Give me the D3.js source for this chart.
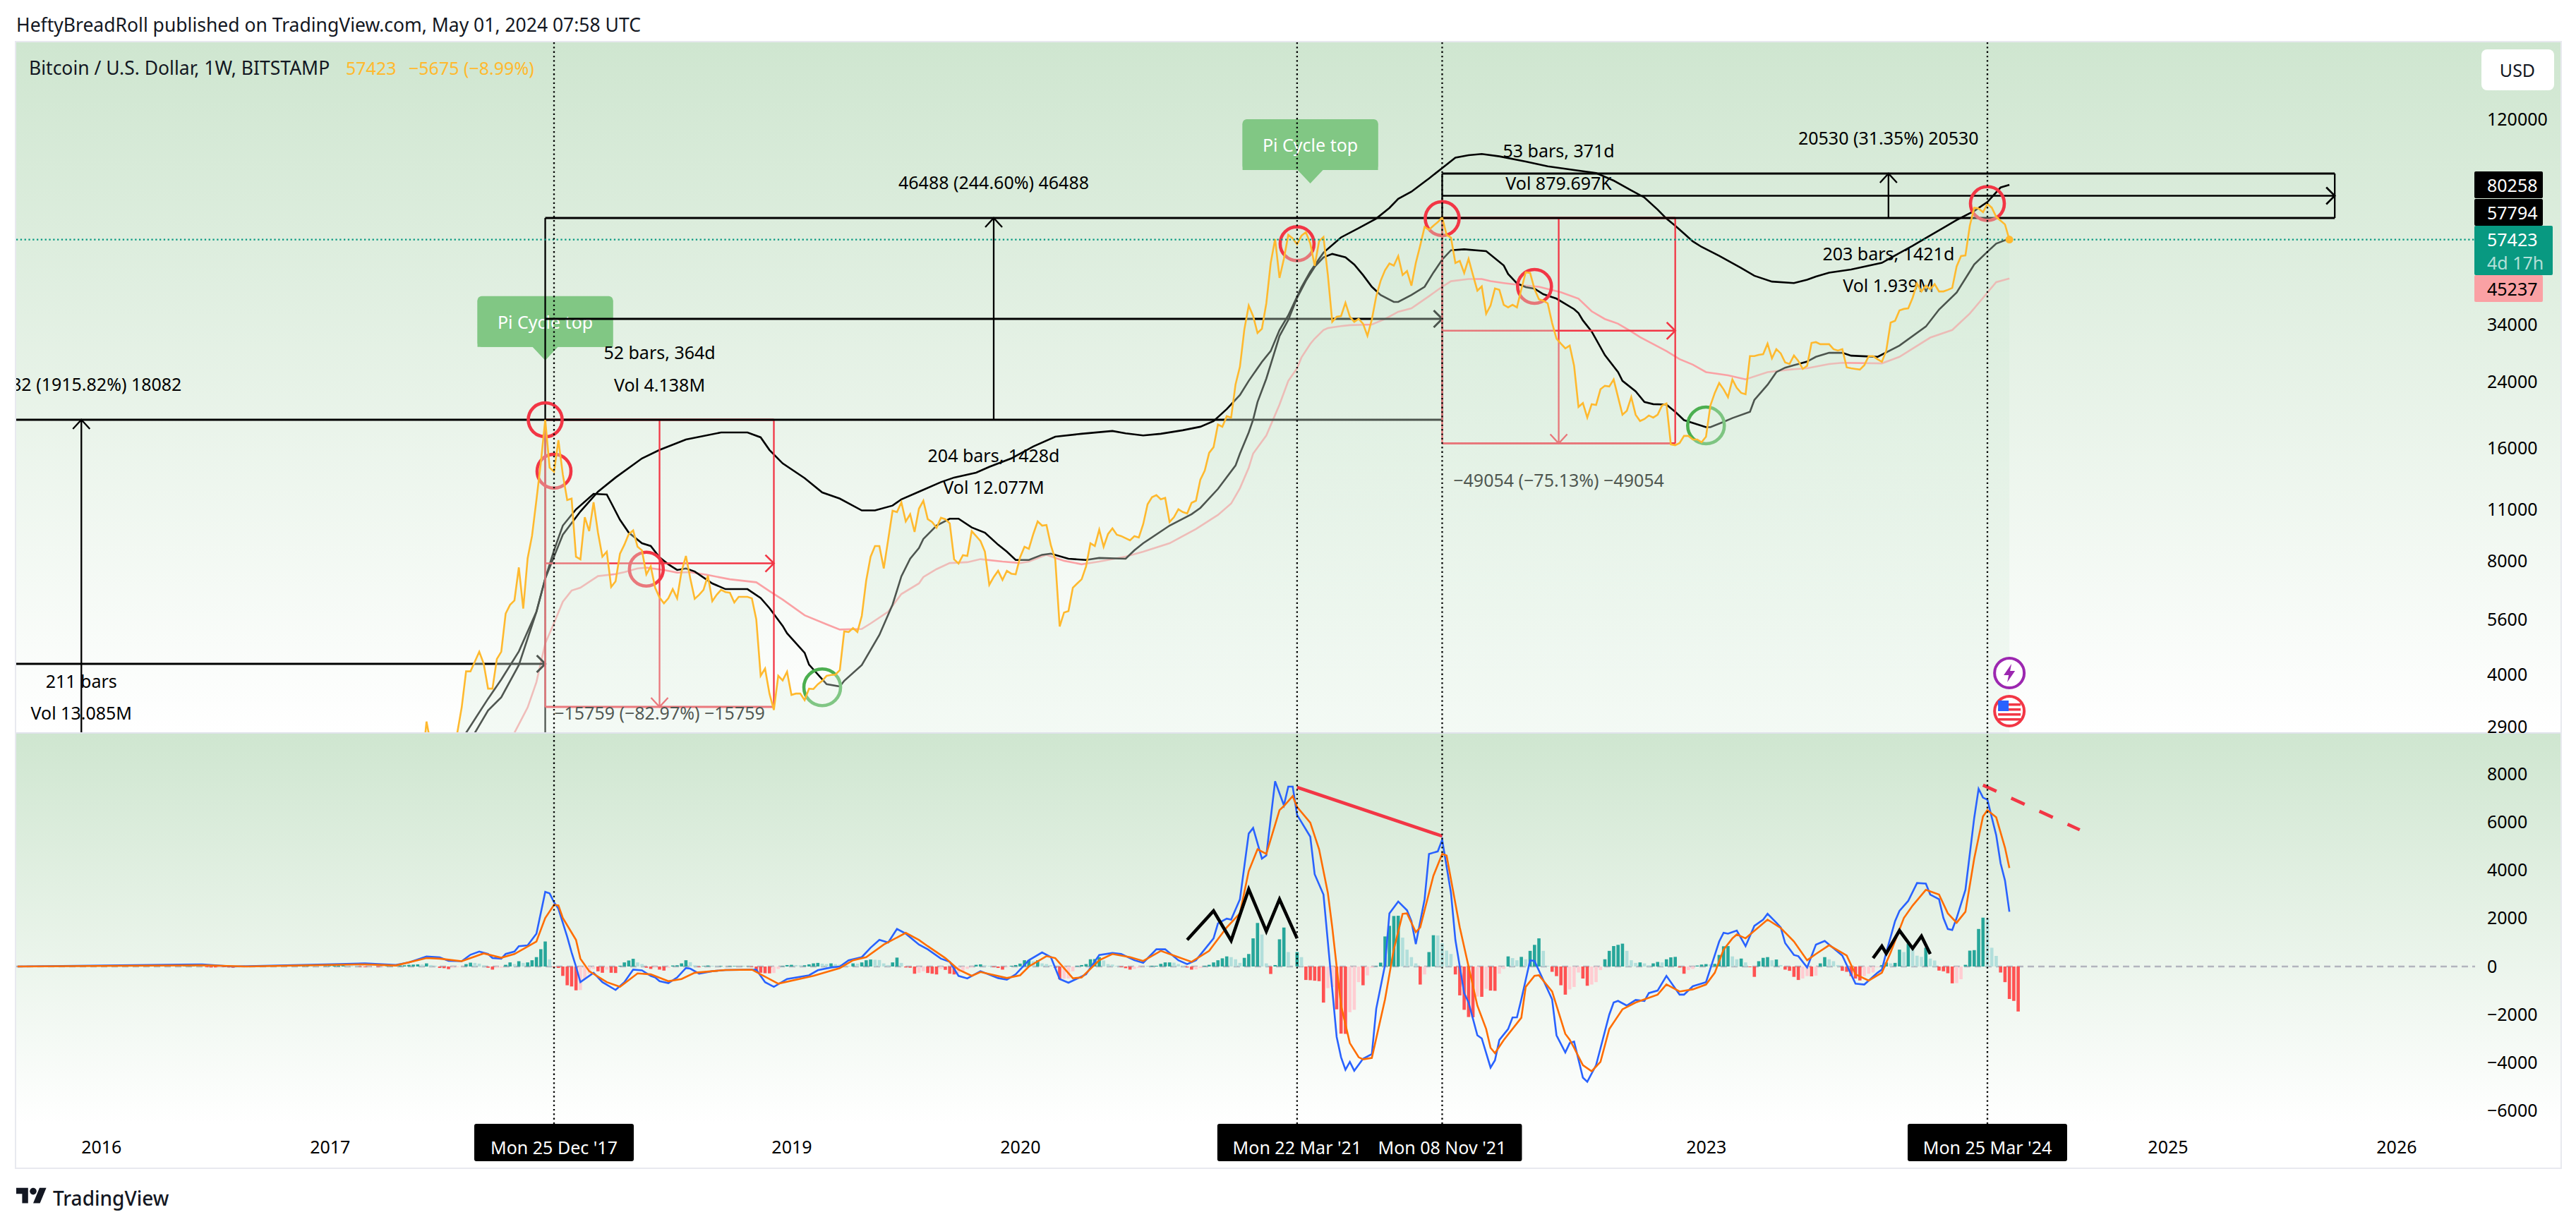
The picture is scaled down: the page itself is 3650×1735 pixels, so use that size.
<!DOCTYPE html>
<html>
<head>
<meta charset="utf-8">
<title>BTCUSD 1W</title>
<script src="https://d3js.org/d3.v7.min.js"></script>
<style>
    html, body { margin: 0; padding: 0; background: #fff; }
    svg { display: block; }
    text { font-family: "Noto Sans", sans-serif; }
</style>
</head>
<body>
<div id="chartContainer"></div>
<script>
// weeks are counted from Mon 25 Dec 2017 (week 0)
const firstPriceWeek = -33;
const priceValues = [
    1800, 2000, 2150, 2280, 3000, 2600, 2500, 2480, 2580, 2600, 2450, 2800,
    3270, 4080, 4080, 4330, 4600, 4280, 3670, 3670, 4400, 4600, 5810, 6130, 6300, 7710, 5990, 8150, 9360, 11650, 14640, 19040, 14200,
    13860, 16800, 13630, 11650, 11750, 8230, 8100, 10490, 9630, 11490,
    9540, 8230, 8490, 6840, 7080, 8380, 8860, 9460, 9670, 8750,
    8560, 7390, 7760, 6810, 6410, 6190, 6380, 6750, 6380, 7520,
    8270, 7200, 6360, 6520, 6720, 7330, 6270, 6520, 6720, 6630,
    6600, 6220, 6440, 6440, 6440, 6380, 5610, 3970, 4150, 3560,
    3220, 3970, 3860, 4070, 3530, 3560, 3560, 3420, 3670, 3660,
    3770, 3850, 3970, 3990, 4000, 4110, 5210, 5190, 5320, 5190,
    5730, 7110, 8230, 8790, 8790, 7660, 9140, 10910, 10820, 11490,
    10220, 10680, 9580, 11050, 11600, 10360, 10180, 9830, 10450, 10360,
    10100, 8100, 7890, 8310, 8270, 9630, 9340, 9060, 8490, 6930,
    7270, 7550, 7140, 7550, 7420, 7390, 8200, 8750, 8640, 9460,
    10220, 9960, 10000, 8830, 8100, 5370, 5850, 5900, 6810, 6990,
    7170, 7760, 8940, 8790, 9710, 8750, 9460, 9790, 9420, 9340,
    9220, 9100, 9340, 9260, 10050, 11350, 11850, 12000, 11700, 11800,
    10180, 10490, 11010, 10820, 10730, 11450, 11600, 13200, 13950, 15550,
    16100, 18500, 18250, 19470, 19300, 23650, 26350, 33100, 38350, 35950,
    32400, 33250, 38860, 49750, 57600, 45400, 51050, 59100, 57850, 55850,
    58800, 60100, 56100, 48900, 56850, 58300, 46200, 34700, 35800, 35950,
    39000, 35800, 34700, 35350, 34300, 31850, 35200, 40580, 44600, 47600,
    49600, 48950, 51900, 46200, 47350, 43300, 49750, 55350, 62050, 61000,
    62500, 63900, 65800, 59100, 58100, 49750, 50400, 46800, 51050, 46200,
    42000, 43100, 36450, 38350, 42550, 42200, 38500, 37900, 38500, 37900,
    42370, 47000, 46800, 42370, 39850, 39500, 38860, 34450, 31300, 30350,
    29500, 30000, 26500, 20600, 21100, 19300, 20950, 20850, 22950, 23450,
    23350, 24380, 21880, 19640, 20130, 21880, 19640, 18900, 19130, 19550,
    19300, 19640, 20780, 21040, 16380, 16300, 16520, 17250, 17250, 16880,
    16880, 16600, 17170, 20780, 22450, 23850, 22950, 21880, 24380, 23150,
    22450, 22270, 28120, 28120, 28350, 28470, 30350, 27750, 29350, 28600,
    27050, 26800, 28240, 27300, 26000, 26500, 30500, 30640, 30250, 30250,
    30250, 29350, 29100, 29350, 26250, 26100, 26000, 25900, 26600, 28120,
    28120, 27600, 27150, 29100, 34550, 34900, 37220, 37550, 37700, 40220,
    43900, 41800, 43300, 42370, 43700, 41800, 41800, 42200, 42700, 48700,
    51900, 52100, 62500, 69800, 69500, 67900, 71500, 69800, 66000, 64500,
    63000, 57423
];

const upperMaWeeks = [-22, -18, -15, -12, -8, -4, -2, 2, 6, 10, 14, 20, 24, 30, 38, 44, 47, 49, 52, 57, 61, 65, 70, 73, 77, 79, 83, 88, 91, 96, 99, 104, 109, 114, 120, 127, 130, 134, 138, 143, 147, 150, 153, 156, 158, 161, 163, 165, 167, 170, 172, 175, 179, 183, 187, 190, 192, 195, 199, 202, 205, 208, 211, 215, 221, 226, 232, 237, 241, 245, 248, 251, 253, 255, 257, 259, 261, 265, 270, 273, 277, 282, 285, 287, 290, 295, 302, 305, 309, 312, 316, 319, 323, 326, 329, 331];
const upperMaValues = [2300, 2800, 3210, 3480, 4240, 5870, 7200, 9420, 10860, 12260, 13370, 15030, 15830, 16870, 17620, 17620, 17100, 15830, 14580, 13320, 12200, 11750, 10930, 10930, 11260, 11700, 12260, 13000, 13370, 13780, 14270, 15030, 16170, 17170, 17480, 17780, 17530, 17300, 17480, 17860, 18250, 18890, 20330, 22170, 24170, 27150, 29000, 33000, 36100, 42900, 47200, 53000, 58200, 61600, 65300, 69700, 73700, 77000, 83500, 89000, 94800, 96300, 97000, 95600, 92600, 89900, 87900, 86300, 82400, 77600, 74300, 69000, 65300, 62500, 59600, 56800, 54900, 52000, 48250, 46000, 44400, 44000, 44900, 45800, 46900, 47800, 49800, 52100, 55300, 58000, 61700, 64700, 68400, 72300, 79000, 80258];

const middleMaWeeks = [-24, -20, -15, -12, -8, -4, -2, 0, 2, 5, 9, 12, 13, 15, 17, 20, 22, 24, 26, 28, 30, 32, 36, 39, 44, 47, 49, 52, 53, 57, 58, 62, 65, 66, 70, 74, 77, 79, 81, 83, 84, 87, 90, 92, 95, 98, 101, 103, 105, 108, 111, 113, 117, 121, 124, 130, 132, 134, 140, 145, 147, 151, 155, 156, 158, 159, 160, 162, 165, 167, 169, 171, 173, 175, 177, 180, 182, 184, 186, 188, 191, 192, 195, 198, 200, 202, 204, 207, 212, 216, 217, 219, 221, 223, 225, 228, 232, 233, 234, 236, 239, 242, 243, 246, 248, 250, 253, 255, 257, 262, 263, 266, 268, 272, 273, 276, 278, 280, 283, 285, 287, 290, 293, 295, 301, 306, 312, 315, 319, 323, 326, 328, 331];
const middleMaValues = [2300, 2800, 3450, 3880, 4610, 5880, 7200, 8560, 9960, 11000, 12100, 12050, 11450, 10320, 9540, 8940, 8790, 8200, 7860, 7590, 7660, 7520, 6990, 6750, 6750, 6390, 6010, 5390, 5150, 4570, 4250, 3770, 3720, 3850, 4240, 5100, 6140, 7300, 8130, 8680, 9180, 9960, 10390, 10390, 9850, 9540, 8860, 8490, 8070, 8070, 8330, 8390, 8130, 8070, 8170, 8130, 8560, 8940, 9960, 10680, 11100, 12470, 14390, 15480, 17620, 19060, 21230, 24500, 31800, 35100, 40200, 44600, 48600, 51500, 52600, 51500, 49300, 46200, 43000, 40900, 39200, 39200, 40900, 43000, 46900, 50800, 53800, 54100, 53500, 49000, 46500, 43900, 42900, 42500, 41100, 40000, 37500, 36600, 35000, 32700, 28300, 25500, 24170, 22670, 21230, 20960, 20900, 20000, 19000, 18200, 18200, 18800, 19240, 20000, 21500, 23600, 25500, 26200, 26800, 27200, 28000, 28700, 28700, 28200, 28000, 30000, 33700, 37400, 41500, 49300, 53300, 56000, 57794];

const pinkMaWeeks = [-12, -9, -6, -4, -2, 0, 2, 4, 6, 10, 14, 16, 19, 21, 25, 28, 31, 35, 40, 46, 49, 52, 57, 62, 65, 70, 72, 76, 79, 83, 84, 87, 90, 94, 97, 102, 106, 108, 112, 116, 120, 124, 130, 134, 140, 146, 151, 154, 156, 158, 159, 162, 165, 167, 169, 170, 172, 173, 175, 176, 179, 181, 186, 189, 192, 195, 199, 202, 204, 208, 211, 213, 216, 221, 224, 229, 233, 236, 239, 242, 245, 247, 253, 256, 259, 262, 267, 271, 276, 281, 285, 290, 293, 302, 306, 313, 318, 322, 326, 328, 331];
const pinkMaValues = [2400, 2800, 3270, 3820, 4840, 5480, 6250, 6690, 6810, 7310, 7400, 7490, 7660, 7700, 7590, 7470, 7490, 7360, 7170, 7040, 6670, 6330, 5750, 5440, 5270, 5290, 5470, 5880, 6550, 6990, 7270, 7630, 7920, 7960, 8110, 7990, 7920, 7990, 8330, 8030, 7860, 7990, 8240, 8490, 8940, 9750, 10630, 11400, 12520, 14200, 15480, 17300, 20900, 24170, 26100, 27900, 30300, 31300, 33000, 33400, 33800, 34000, 34140, 35300, 36900, 37700, 40600, 43000, 44500, 45100, 45100, 44500, 44000, 43300, 43000, 41600, 40000, 37000, 35300, 34300, 32700, 31600, 29000, 27600, 26700, 25500, 25000, 24400, 25500, 25900, 26100, 26800, 27000, 26900, 28000, 31500, 33000, 36500, 41500, 44240, 45237];

const macdWeeks = [-122, -80, -73, -52, -43, -36, -33, -29, -26, -24, -21, -19, -17, -15, -14, -12, -11, -9, -8, -6, -4, -2, -1, 0, 1, 3, 4, 5, 6, 9, 11, 14, 16, 18, 20, 22, 23, 24, 26, 28, 30, 31, 33, 36, 39, 46, 48, 50, 53, 58, 60, 63, 65, 67, 70, 72, 74, 76, 78, 80, 83, 85, 88, 90, 92, 94, 97, 101, 103, 105, 108, 111, 113, 115, 117, 121, 124, 127, 129, 132, 134, 137, 139, 142, 144, 146, 150, 151, 153, 154, 156, 158, 159, 161, 162, 164, 166, 167, 168, 169, 172, 173, 175, 178, 179, 180, 181, 182, 184, 186, 187, 189, 190, 192, 194, 195, 196, 198, 199, 201, 202, 204, 205, 207, 208, 210, 211, 213, 214, 215, 217, 218, 219, 220, 222, 223, 227, 228, 230, 231, 232, 234, 235, 237, 240, 241, 242, 244, 246, 248, 249, 251, 253, 256, 257, 259, 262, 265, 266, 267, 269, 271, 273, 275, 276, 278, 279, 280, 282, 283, 285, 287, 289, 293, 295, 296, 298, 301, 302, 303, 305, 306, 308, 310, 312, 313, 315, 316, 317, 318, 319, 321, 323, 324, 325, 326, 328, 329, 330, 331];
const macdValues = [0, 90, 0, 90, 130, 65, 170, 415, 380, 235, 220, 490, 620, 520, 350, 325, 520, 620, 845, 880, 1365, 3100, 3040, 2670, 2405, 1235, 585, 0, -650, -260, -650, -975, -650, -130, -160, -390, -455, -610, -690, -455, -65, -90, -300, -195, -145, -130, -650, -845, -520, -365, -155, -40, 0, 260, 390, 780, 1105, 1000, 1560, 1365, 910, 715, 325, 195, -390, -495, -195, -480, -545, -325, 260, 585, 390, -520, -675, -325, 480, 560, 520, 260, 155, 715, 715, 260, 100, 260, 1170, 1790, 1990, 1950, 2795, 5525, 5760, 4485, 4615, 7700, 6700, 7480, 7480, 6300, 5395, 3835, 2990, -2925, -3770, -4290, -3965, -4330, -3835, -3640, -1755, 65, 2210, 2700, 2340, 1885, 930, 2795, 4680, 4785, 5265, 3055, 1105, -1105, -1495, -2860, -2990, -4200, -3900, -3055, -2600, -2120, -2110, -1365, 260, 230, -1365, -2860, -3575, -3185, -3120, -4620, -4790, -4100, -2000, -1495, -1430, -1625, -1390, -1430, -1105, -1000, -390, -1170, -1170, -820, -650, 1040, 1400, 1365, 1495, 845, 1690, 1950, 2190, 1820, 1625, 975, 480, 430, -40, 910, 1065, 455, -325, -715, -750, -260, -130, 585, 1885, 2310, 2730, 3470, 3445, 2990, 2795, 2015, 1560, 1520, 2015, 3185, 6175, 7385, 7020, 6930, 5460, 4290, 3575, 2275];

const signalWeeks = [-122, -80, -70, -43, -36, -29, -26, -21, -16, -12, -9, -4, -2, 0, 1, 2, 5, 6, 8, 12, 15, 19, 22, 26, 29, 32, 39, 45, 51, 59, 65, 68, 71, 75, 80, 83, 85, 89, 92, 95, 97, 103, 106, 108, 112, 114, 118, 120, 124, 127, 131, 134, 138, 142, 145, 149, 153, 156, 158, 160, 162, 165, 166, 168, 169, 172, 174, 176, 177, 179, 181, 183, 184, 186, 189, 191, 193, 194, 196, 197, 200, 202, 203, 206, 208, 210, 212, 213, 214, 216, 220, 221, 223, 224, 227, 230, 231, 232, 234, 236, 238, 240, 243, 246, 251, 253, 256, 259, 262, 264, 266, 268, 269, 271, 276, 279, 282, 285, 287, 290, 294, 296, 299, 302, 304, 307, 309, 312, 315, 317, 319, 321, 323, 325, 326, 328, 330, 331];
const signalValues = [0, 50, 0, 90, 40, 350, 325, 220, 545, 365, 520, 1040, 2015, 2565, 2540, 2015, 1105, 325, -195, -650, -845, -285, -325, -610, -520, -260, -145, -130, -715, -390, -65, 260, 390, 910, 1400, 1105, 845, 350, -130, -390, -230, -480, -365, 0, 430, 350, -490, -455, 260, 520, 390, 230, 650, 390, 195, 650, 1625, 2210, 3965, 4875, 4680, 6500, 6670, 7085, 6630, 5980, 4875, 3055, 1625, -1625, -3185, -3770, -3860, -3800, -1365, 715, 2190, 2210, 1430, 1625, 3770, 4680, 4615, 1625, 0, -1625, -2600, -3380, -3600, -3055, -2130, -845, -390, -365, -1040, -2800, -3040, -3380, -4100, -4355, -3965, -2600, -1780, -1495, -1170, -745, -1040, -950, -750, -260, 700, 1170, 1330, 1170, 1950, 1600, 1040, 260, 520, 885, 455, -325, -585, -260, 585, 2015, 2535, 3185, 2990, 2210, 1820, 2275, 4485, 6240, 6500, 6200, 4940, 4095];

const firstHistWeek = -84;
const histValues = [
    30, 40, 40, 30, 20, -30, -40, -40, -30, -30, -40, -50, -30, -20, -20, -10, 10, 10, 10, 20,
    20, 20, 15, 10, 10, 20, 30, 40, 40, 30, 20, 10, 15, 20, 30, 40, 50, 40, 30, 20, -20, -30, -20, -10,
    -30, -20, 20, 30, 40, 45, 50, 70, 80, 90, 80, 130, 60, 30, -60, -70, -110, -50, -30, -10,
    100, 160, 150, 120, 50, -50, -130, -60, -50, 70, 170, 100, 220, 150, 170, 260, 390, 720, 1040, 300,
    -30, -60, -390, -780, -830, -990, -980, -520, -300, -100, -200, -260, -130, -260, -270, 30, 170, 250, 320, 170,
    100, -50, -100, -60, -130, -170, -60, 40, 50, 130, 260, 180, 50, -30, 20, 40, 30, 20, 20, 10,
    20, 20, 10, 10, 10, -20, -170, -260, -280, -285, -270, -100, 20, 60, 70, 60, 50, 50, 90, 130,
    150, 120, 100, 130, 100, 80, 70, 30, 130, 120, 170, 260, 290, 280, 270, 130, 60, 170, 370, 150,
    -40, -50, -300, -260, -200, -270, -300, -330, -100, -140, -300, -330, -280, -200, -100, -40, 70, 90, 50, 30,
    -30, -60, -130, -30, 30, 60, 120, 260, 270, 220, 260, 130, 100, 50, -60, -520, -510, -500, -200, 30,
    60, 100, 300, 310, 390, 250, 100, 80, 30, -30, -70, -130, -100, -60, -10, 10, 30, 30, 110, 170,
    170, 160, 100, 30, -40, -130, -120, -60, 30, 70, 170, 260, 340, 420, 390, 300, 150, 360, 520, 1170,
    1810, 1330, 130, -310, 60, 1130, 1620, 600, 10, 600, 390, -560, -570, -590, -610, -1500, -900, -850, -1780, -2790,
    -2800, -1900, -1800, -650, -780, -370, -50, 20, 160, 1250, 1690, 2100, 2110, 1200, 700, 390, 130, -750, -330, 600,
    1300, 1290, 970, 660, 520, -330, -1200, -1800, -2100, -2110, -1250, -1260, -930, -1000, -1010, -300, -100, 420, 350, 260,
    400, 300, 650, 900, 1170, 650, 30, -220, -400, -780, -1170, -950, -850, -250, -500, -800, -750, -650, -150, 300,
    650, 850, 900, 950, 650, 260, 150, 170, 130, 50, 130, 190, 170, 300, 380, 400, -40, -300, -150, -100,
    40, 80, 100, 90, 110, 480, 840, 850, 420, 300, 330, 170, -30, -430, 220, 360, 390, 260, 290, 60,
    -130, -180, -430, -560, -500, -400, -410, -380, 130, 390, 300, 220, 60, -180, -220, -400, -500, -580, -400, -300,
    -250, -30, 60, 170, 130, 150, 700, 600, 950, 720, 450, 400, 780, 330, 250, -170, -200, -280, -700, -690,
    -530, 70, 660, 680, 1560, 2030, 2010, 780, 440, -250, -650, -1350, -1430, -1870
];

// measure tools: start week, end week, start price, end price
const rangeStartWeeks = [-213, -2, -2, 202, 202];
const rangeEndWeeks = [-2, 50, 202, 255, 405];
const rangeFromPrices = [958, 19040, 19040, 65528, 65528];
const rangeToPrices = [19040, 3281, 65528, 16474, 86058];
const rangePriceTexts = ["18082 (1915.82%) 18082", "\u221215759 (\u221282.97%) \u221215759", "46488 (244.60%) 46488", "\u221249054 (\u221275.13%) \u221249054", "20530 (31.35%) 20530"];
const rangeBarTexts = ["211 bars", "52 bars, 364d", "204 bars, 1428d", "53 bars, 371d", "203 bars, 1421d"];
const rangeVolTexts = ["Vol 13.085M", "Vol 4.138M", "Vol 12.077M", "Vol 879.697K", "Vol 1.939M"];

const circleWeeks = [-2, 0, 21, 61, 169, 202, 223, 262, 326];
const circlePrices = [19040, 13900, 7630, 3700, 56000, 65300, 43100, 18400, 71600];
const circleGreen = [false, false, false, true, false, false, false, true, false];

const calloutWeeks = [-2, 172];
const calloutPrices = [27400, 81000];

const crosshairWeeks = [0, 169, 202, 326];
const crosshairLabels = ["Mon 25 Dec '17", "Mon 22 Mar '21", "Mon 08 Nov '21", "Mon 25 Mar '24"];

const priceTicks = [120000, 34000, 24000, 16000, 11000, 8000, 5600, 4000, 2900];
const macdTicks = [8000, 6000, 4000, 2000, 0, -2000, -4000, -6000];
const yearTickDates = ["2016-01-04", "2017-01-02", "2019-01-07", "2020-01-06", "2023-01-02", "2025-01-06", "2026-01-05"];
const yearTickLabels = ["2016", "2017", "2019", "2020", "2023", "2025", "2026"];

const zigzagOneWeeks = [144, 150, 154, 158, 162, 165, 169];
const zigzagOneValues = [1105, 2314, 1079, 3211, 1469, 2795, 1170];
const zigzagTwoWeeks = [300, 302, 303, 306, 309, 311, 313];
const zigzagTwoValues = [351, 845, 546, 1495, 754, 1261, 520];
const trendOneWeeks = [169, 202];
const trendOneValues = [7449, 5421];
const trendTwoWeeks = [325, 347];
const trendTwoValues = [7540, 5681];

const axisLabelsPrice = [80258, 57794, 57423, 45237];


function drawChart() {

    const width = 3650, height = 1735;
    const paneLeft = 23, paneRight = 3628, plotRight = 3507;
    const mainTop = 60, mainBottom = 1038, subTop = 1040, subBottom = 1593;
    const black = "#000", red = "#f23645", gold = "#ffb92e";
    const fontSize = 25, headerSize = 26.5;

    const svg = d3.select("#chartContainer")
        .append("svg")
        .attr("width", width)
        .attr("height", height);

    const base = new Date(Date.UTC(2017, 11, 25));
    const weekDate = w => d3.utcDay.offset(base, 7 * w);

    const x = d3.scaleUtc()
        .domain([weekDate(0), weekDate(326)])
        .range([785, 2816]);

    const y = d3.scaleLog()
        .domain([2900, 120000])
        .range([1030.6, 169]);

    const yMacd = d3.scaleLinear()
        .domain([-6000, 8000])
        .range([1574.6, 1097.2]);

    const defs = svg.append("defs");

    const paneGrad = defs.append("linearGradient")
        .attr("id", "paneGrad")
        .attr("x1", 0).attr("x2", 0).attr("y1", 0).attr("y2", 1);
    paneGrad.append("stop").attr("offset", 0).attr("stop-color", "#cfe6d0");
    paneGrad.append("stop").attr("offset", 1).attr("stop-color", "#ffffff");

    const areaGrad = defs.append("linearGradient")
        .attr("id", "areaGrad")
        .attr("gradientUnits", "userSpaceOnUse")
        .attr("x1", 0).attr("x2", 0).attr("y1", 290).attr("y2", mainBottom);
    areaGrad.append("stop").attr("offset", 0).attr("stop-color", "#cde8d2").attr("stop-opacity", 0.36);
    areaGrad.append("stop").attr("offset", 1).attr("stop-color", "#dff0e2").attr("stop-opacity", 0.36);

    defs.append("clipPath").attr("id", "mainClip")
        .append("rect")
        .attr("x", paneLeft).attr("y", mainTop)
        .attr("width", plotRight - paneLeft).attr("height", mainBottom - mainTop);

    defs.append("clipPath").attr("id", "subClip")
        .append("rect")
        .attr("x", paneLeft).attr("y", subTop)
        .attr("width", plotRight - paneLeft).attr("height", subBottom - subTop);

    // backgrounds
    svg.append("rect")
        .attr("x", paneLeft).attr("y", mainTop)
        .attr("width", paneRight - paneLeft).attr("height", mainBottom - mainTop)
        .attr("fill", "url(#paneGrad)");

    svg.append("rect")
        .attr("x", paneLeft).attr("y", subTop)
        .attr("width", paneRight - paneLeft).attr("height", subBottom - subTop)
        .attr("fill", "url(#paneGrad)");

    // frame
    svg.append("rect")
        .attr("x", paneLeft - 1).attr("y", mainTop - 1)
        .attr("width", paneRight - paneLeft + 2).attr("height", 1656 - mainTop + 1)
        .attr("fill", "none")
        .attr("stroke", "#e8e9ef")
        .attr("stroke-width", 2);

    svg.append("line")
        .attr("x1", paneLeft).attr("x2", paneRight)
        .attr("y1", 1039).attr("y2", 1039)
        .attr("stroke", "#e0e3eb")
        .attr("stroke-width", 2);

    const main = svg.append("g").attr("clip-path", "url(#mainClip)");

    // callouts sit under the tools
    const calloutG = main.selectAll(".callout")
        .data(calloutWeeks.map((w, i) => ({ w: w, p: calloutPrices[i] })))
        .enter()
        .append("g")
        .attr("class", "callout")
        .attr("transform", d => `translate(${x(weekDate(d.w))},${y(d.p)})`);

    calloutG.append("path")
        .attr("fill", "#81c784")
        .attr("d", "M-96,-85 h192 v66 h-78 l-18,19 l-18,-19 h-78 z");

    calloutG.append("rect")
        .attr("x", -96).attr("y", -91)
        .attr("width", 192).attr("height", 72)
        .attr("rx", 6)
        .attr("fill", "#81c784");

    calloutG.append("text")
        .attr("y", -55)
        .attr("text-anchor", "middle")
        .attr("dominant-baseline", "central")
        .attr("fill", "#fff")
        .style("font-size", fontSize + "px")
        .text("Pi Cycle top");

    // moving averages
    const maLine = d3.line()
        .x(d => x(weekDate(d[0])))
        .y(d => y(d[1]));

    main.append("path")
        .attr("d", maLine(d3.zip(pinkMaWeeks, pinkMaValues)))
        .attr("fill", "none")
        .attr("stroke", "#faa1a4")
        .attr("stroke-width", 2.6);

    main.append("path")
        .attr("d", maLine(d3.zip(middleMaWeeks, middleMaValues)))
        .attr("fill", "none")
        .attr("stroke", black)
        .attr("stroke-width", 2.6);

    main.append("path")
        .attr("d", maLine(d3.zip(upperMaWeeks, upperMaValues)))
        .attr("fill", "none")
        .attr("stroke", black)
        .attr("stroke-width", 2.6);

    // date and price range tools
    rangeStartWeeks.forEach((startWeek, i) => {
        const x0 = x(weekDate(startWeek));
        const x1 = x(weekDate(rangeEndWeeks[i]));
        const yFrom = y(rangeFromPrices[i]);
        const yTo = y(rangeToPrices[i]);
        const up = yTo < yFrom;
        const color = up ? black : red;
        const top = Math.min(yFrom, yTo), bottom = Math.max(yFrom, yTo);
        const midX = (x0 + x1) / 2, midY = (top + bottom) / 2;

        const g = main.append("g")
            .attr("stroke", color)
            .attr("fill", "none");

        g.append("path")
            .attr("d", `M${x0},${top}H${x1}M${x0},${bottom}H${x1}`)
            .attr("stroke-width", 3);

        g.append("path")
            .attr("d", `M${x0},${top}V${bottom}M${x1},${top}V${bottom}`)
            .attr("stroke-width", 2.3);

        g.append("path")
            .attr("d", `M${x0},${midY}H${x1}M${x1 - 12},${midY - 12}L${x1},${midY}L${x1 - 12},${midY + 12}`)
            .attr("stroke-width", i === 4 || i === 1 || i === 3 ? 2.6 : 3);

        const tipY = up ? top : bottom;
        const dir = up ? 1 : -1;
        g.append("path")
            .attr("d", `M${midX},${up ? bottom : top}V${tipY}M${midX - 12},${tipY + dir * 13}L${midX},${tipY}L${midX + 12},${tipY + dir * 13}`)
            .attr("stroke-width", 2.3);

        // labels: price on the arrow side, bars and volume on the other side
        const priceY = up ? top - 51 : Math.min(bottom + 51, 1010);
        const volY = up ? Math.min(bottom + 95, 1010) : top - 50;
        const barY = up ? volY - 45 : top - 96;

        [[rangePriceTexts[i], priceY], [rangeBarTexts[i], barY], [rangeVolTexts[i], volY]].forEach(t => {
            main.append("text")
                .attr("x", midX)
                .attr("y", t[1])
                .attr("text-anchor", "middle")
                .attr("dominant-baseline", "central")
                .attr("fill", black)
                .style("font-size", fontSize + "px")
                .text(t[0]);
        });
    });

    // circles drawn on the chart
    main.selectAll(".mark")
        .data(circleWeeks.map((w, i) => ({ w: w, p: circlePrices[i], green: circleGreen[i] })))
        .enter()
        .append("circle")
        .attr("class", "mark")
        .attr("cx", d => x(weekDate(d.w)))
        .attr("cy", d => y(d.p))
        .attr("r", d => d.green ? 26 : 24)
        .attr("fill", "none")
        .attr("stroke", d => d.green ? "#4caf50" : red)
        .attr("stroke-width", 4.6);

    // price area goes over the tools, so they fade below the line
    const priceData = priceValues.map((v, i) => ({ week: firstPriceWeek + i, value: v }));

    const priceArea = d3.area()
        .x(d => x(weekDate(d.week)))
        .y0(mainBottom)
        .y1(d => y(d.value));

    main.append("path")
        .attr("d", priceArea(priceData))
        .attr("fill", "url(#areaGrad)");

    const priceLine = d3.line()
        .x(d => x(weekDate(d.week)))
        .y(d => y(d.value));

    main.append("path")
        .attr("d", priceLine(priceData))
        .attr("fill", "none")
        .attr("stroke", gold)
        .attr("stroke-width", 2.6);

    const lastPrice = priceData[priceData.length - 1];

    // last price line
    main.append("line")
        .attr("x1", paneLeft).attr("x2", plotRight)
        .attr("y1", y(lastPrice.value)).attr("y2", y(lastPrice.value))
        .attr("stroke", "#089981")
        .attr("stroke-width", 2.3)
        .attr("stroke-dasharray", "2.3 3.5");

    main.append("circle")
        .attr("cx", x(weekDate(lastPrice.week)))
        .attr("cy", y(lastPrice.value))
        .attr("r", 5.5)
        .attr("fill", gold);

    // event icons on the last bar
    const iconX = x(weekDate(lastPrice.week));
    const boltIcon = main.append("g").attr("transform", `translate(${iconX},954)`);
    boltIcon.append("circle").attr("r", 21).attr("fill", "#fff").attr("stroke", "#9c27b0").attr("stroke-width", 4);
    boltIcon.append("path").attr("d", "M3,-13 L-8,3 H-1 L-3,13 L8,-3 H1 Z").attr("fill", "#9c27b0");

    const flagIcon = main.append("g").attr("transform", `translate(${iconX},1008)`);
    flagIcon.append("circle").attr("r", 21).attr("fill", "#fff").attr("stroke", red).attr("stroke-width", 4);
    [-11, -4, 3, 10].forEach(d => {
        flagIcon.append("rect")
            .attr("x", -16).attr("y", d)
            .attr("width", 32).attr("height", 3.5)
            .attr("fill", red);
    });
    flagIcon.append("rect").attr("x", -16).attr("y", -15).attr("width", 15).attr("height", 15).attr("fill", "#2962ff");

    // macd pane
    const sub = svg.append("g").attr("clip-path", "url(#subClip)");

    sub.append("line")
        .attr("x1", paneLeft).attr("x2", plotRight)
        .attr("y1", yMacd(0)).attr("y2", yMacd(0))
        .attr("stroke", "#b2b5be")
        .attr("stroke-width", 2.3)
        .attr("stroke-dasharray", "9 6");

    const histColor = (v, prev) => {
        if (v >= 0) return v >= prev ? "#26a69a" : "#b2dfdb";
        return v <= prev ? "#ff5252" : "#ffcdd2";
    };

    sub.selectAll(".bar")
        .data(histValues)
        .enter()
        .append("rect")
        .attr("class", "bar")
        .attr("x", (d, i) => x(weekDate(firstHistWeek + i)) - 2.3)
        .attr("y", d => Math.min(yMacd(d), yMacd(0)))
        .attr("width", 4.6)
        .attr("height", d => Math.abs(yMacd(d) - yMacd(0)))
        .attr("fill", (d, i) => histColor(d, i ? histValues[i - 1] : 0));

    const macdLine = d3.line()
        .x(d => x(weekDate(d[0])))
        .y(d => yMacd(d[1]));

    sub.append("path")
        .attr("d", macdLine(d3.zip(macdWeeks, macdValues)))
        .attr("fill", "none")
        .attr("stroke", "#2962ff")
        .attr("stroke-width", 2.6);

    sub.append("path")
        .attr("d", macdLine(d3.zip(signalWeeks, signalValues)))
        .attr("fill", "none")
        .attr("stroke", "#ff6d00")
        .attr("stroke-width", 2.6);

    [[zigzagOneWeeks, zigzagOneValues], [zigzagTwoWeeks, zigzagTwoValues]].forEach(z => {
        sub.append("path")
            .attr("d", macdLine(d3.zip(z[0], z[1])))
            .attr("fill", "none")
            .attr("stroke", black)
            .attr("stroke-width", 4.6);
    });

    sub.append("path")
        .attr("d", macdLine(d3.zip(trendOneWeeks, trendOneValues)))
        .attr("fill", "none")
        .attr("stroke", red)
        .attr("stroke-width", 4.6);

    sub.append("path")
        .attr("d", macdLine(d3.zip(trendTwoWeeks, trendTwoValues)))
        .attr("fill", "none")
        .attr("stroke", red)
        .attr("stroke-width", 4.6)
        .attr("stroke-dasharray", "21 23");

    // vertical crosshair lines over both panes
    svg.selectAll(".crosshair")
        .data(crosshairWeeks)
        .enter()
        .append("line")
        .attr("class", "crosshair")
        .attr("x1", d => x(weekDate(d)))
        .attr("x2", d => x(weekDate(d)))
        .attr("y1", mainTop)
        .attr("y2", subBottom)
        .attr("stroke", black)
        .attr("stroke-width", 2.3)
        .attr("stroke-dasharray", "2.3 4");

    // price axis
    svg.append("g")
        .attr("transform", `translate(3524,0)`)
        .call(d3.axisRight(y).tickValues(priceTicks).tickSize(0).tickPadding(0).tickFormat(d3.format("d")))
        .call(g => g.select(".domain").remove())
        .selectAll("text")
        .attr("fill", black)
        .style("font-size", fontSize + "px");

    const macdFormat = d => String(d).replace("-", "\u2212");
    svg.append("g")
        .attr("transform", `translate(3524,0)`)
        .call(d3.axisRight(yMacd).tickValues(macdTicks).tickSize(0).tickPadding(0).tickFormat(macdFormat))
        .call(g => g.select(".domain").remove())
        .selectAll("text")
        .attr("fill", black)
        .style("font-size", fontSize + "px");

    // price scale labels
    const tagX = 3506, tagW = 97;
    const tagFill = ["#000", "#000", "#089981", "#faa1a4"];
    const tagInk = ["#fff", "#fff", "#fff", "#000"];
    const tagTops = [243, 282, 320, 390];
    const tagHeights = [38, 38, 70, 38];
    const tagCentres = [262, 301, 339, 409];

    axisLabelsPrice.forEach((p, i) => {
        svg.append("rect")
            .attr("x", tagX).attr("y", tagTops[i])
            .attr("width", i === 2 ? 111 : tagW).attr("height", tagHeights[i])
            .attr("rx", 2)
            .attr("fill", tagFill[i]);
        svg.append("text")
            .attr("x", 3524).attr("y", tagCentres[i])
            .attr("dominant-baseline", "central")
            .attr("fill", tagInk[i])
            .style("font-size", fontSize + "px")
            .text(p);
    });

    svg.append("text")
        .attr("x", 3524).attr("y", 372)
        .attr("dominant-baseline", "central")
        .attr("fill", "#fff")
        .attr("fill-opacity", 0.7)
        .style("font-size", fontSize + "px")
        .text("4d 17h");

    svg.append("rect")
        .attr("x", 3516).attr("y", 70)
        .attr("width", 103).attr("height", 58)
        .attr("rx", 8)
        .attr("fill", "#fff");

    svg.append("text")
        .attr("x", 3567).attr("y", 99)
        .attr("text-anchor", "middle")
        .attr("dominant-baseline", "central")
        .attr("fill", "#131722")
        .style("font-size", fontSize + "px")
        .text("USD");

    // time axis
    const yearDates = yearTickDates.map(d => new Date(d + "T00:00:00Z"));
    svg.append("g")
        .attr("transform", `translate(0,1625)`)
        .call(d3.axisBottom(x).tickValues(yearDates).tickSize(0).tickPadding(0)
            .tickFormat((d, i) => yearTickLabels[i]))
        .call(g => g.select(".domain").remove())
        .selectAll("text")
        .attr("dy", "0.0em")
        .attr("dominant-baseline", "central")
        .attr("fill", black)
        .style("font-size", fontSize + "px");

    const timeTags = svg.selectAll(".timeTag")
        .data(crosshairWeeks.map((w, i) => ({ w: w, label: crosshairLabels[i] })))
        .enter()
        .append("g")
        .attr("class", "timeTag")
        .attr("transform", d => `translate(${x(weekDate(d.w))},0)`);

    timeTags.append("rect")
        .attr("x", -113).attr("y", 1593)
        .attr("width", 226).attr("height", 53)
        .attr("rx", 3)
        .attr("fill", black);

    timeTags.append("text")
        .attr("y", 1626)
        .attr("text-anchor", "middle")
        .attr("dominant-baseline", "central")
        .attr("fill", "#fff")
        .style("font-size", fontSize + "px")
        .text(d => d.label);

    // header and legend
    svg.append("text")
        .attr("x", 23).attr("y", 35)
        .attr("dominant-baseline", "central")
        .attr("fill", "#131722")
        .style("font-size", headerSize + "px")
        .text("HeftyBreadRoll published on TradingView.com, May 01, 2024 07:58 UTC");

    svg.append("text")
        .attr("x", 41).attr("y", 96)
        .attr("dominant-baseline", "central")
        .attr("fill", "#131722")
        .style("font-size", headerSize + "px")
        .text("Bitcoin / U.S. Dollar, 1W, BITSTAMP");

    svg.append("text")
        .attr("x", 490).attr("y", 96)
        .attr("dominant-baseline", "central")
        .attr("fill", gold)
        .style("font-size", fontSize + "px")
        .text("57423");

    svg.append("text")
        .attr("x", 579).attr("y", 96)
        .attr("dominant-baseline", "central")
        .attr("fill", gold)
        .style("font-size", fontSize + "px")
        .text("\u22125675 (\u22128.99%)");

    // TradingView logo
    const logo = svg.append("g")
        .attr("transform", "translate(23,1679) scale(1.2)")
        .attr("fill", "#131722");
    logo.append("path").attr("d", "M14 22H7V11H0V4h14v18zM28 22h-8l7.5-18h8L28 22z");
    logo.append("circle").attr("cx", 20).attr("cy", 8).attr("r", 4);

    svg.append("text")
        .attr("x", 75).attr("y", 1698)
        .attr("dominant-baseline", "central")
        .attr("fill", "#131722")
        .style("font-size", "28px")
        .style("font-weight", 500)
        .text("TradingView");
}

drawChart();
</script>
</body>
</html>
